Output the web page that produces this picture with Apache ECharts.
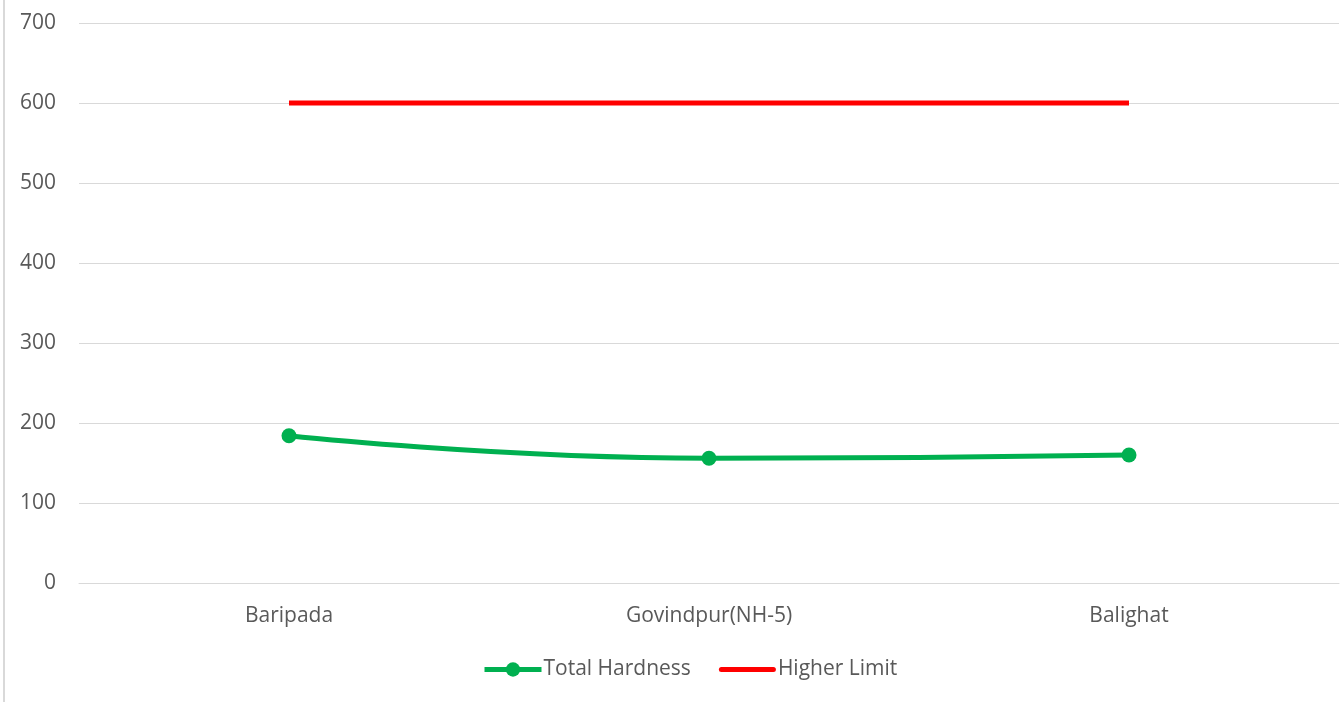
<!DOCTYPE html>
<html><head><meta charset="utf-8">
<script src="https://cdn.jsdelivr.net/npm/echarts@6/dist/echarts.min.js"></script>
<style>
html,body{margin:0;padding:0;background:#fff;}
#c{width:1343px;height:702px;position:relative;}
#edge{position:absolute;left:3px;top:0;width:2px;height:702px;background:#d9d9d9;}
</style></head><body>
<div id="c"></div><div id="edge"></div>
<script>
const categories = ['Baripada', 'Govindpur(NH-5)', 'Balighat'];
const totalHardness = [184, 156, 160];
const higherLimit = [600, 600, 600];
const yMin = 0, yMax = 700, yStep = 100;

const chart = echarts.init(document.getElementById('c'));
const font = '"Open Sans", "Liberation Sans", sans-serif';
chart.setOption({
  animation: false,
  textStyle: {fontFamily: font},
  grid: {left: 79, right: 4, top: 23, bottom: 119, containLabel: false},
  legend: {
    bottom: 17, left: 477, itemWidth: 57, itemHeight: 18, itemGap: 28,
    textStyle: {fontSize: 21, color: '#595959', fontFamily: font, padding: [0,0,0,-3]},
    lineStyle: {width: 5},
    data: [
      {name: 'Total Hardness'},
      {name: 'Higher Limit', icon: 'path://M2.5,0L54.5,0A2.5,2.5,0,0,1,54.5,5L2.5,5A2.5,2.5,0,0,1,2.5,0Z'}
    ]
  },
  xAxis: {
    type: 'category', data: categories, boundaryGap: true,
    axisLine: {lineStyle: {color: '#d9d9d9', width: 1}},
    axisTick: {show: false},
    axisLabel: {color: '#595959', fontSize: 21, margin: 23, fontFamily: font}
  },
  yAxis: {
    type: 'value', min: yMin, max: yMax, interval: yStep,
    axisLine: {show: false}, axisTick: {show: false},
    splitLine: {lineStyle: {color: '#d9d9d9', width: 1}},
    axisLabel: {color: '#595959', fontSize: 21, margin: 23, fontFamily: font}
  },
  series: [
    {name: 'Total Hardness', type: 'line', data: totalHardness, smooth: 0.5,
     symbol: 'circle', symbolSize: 15,
     itemStyle: {color: '#00B050'}, lineStyle: {color: '#00B050', width: 5}},
    {name: 'Higher Limit', type: 'line', data: higherLimit,
     symbol: 'none', showSymbol: false,
     itemStyle: {color: '#FF0000'}, lineStyle: {color: '#FF0000', width: 5}}
  ]
});
</script></body></html>
